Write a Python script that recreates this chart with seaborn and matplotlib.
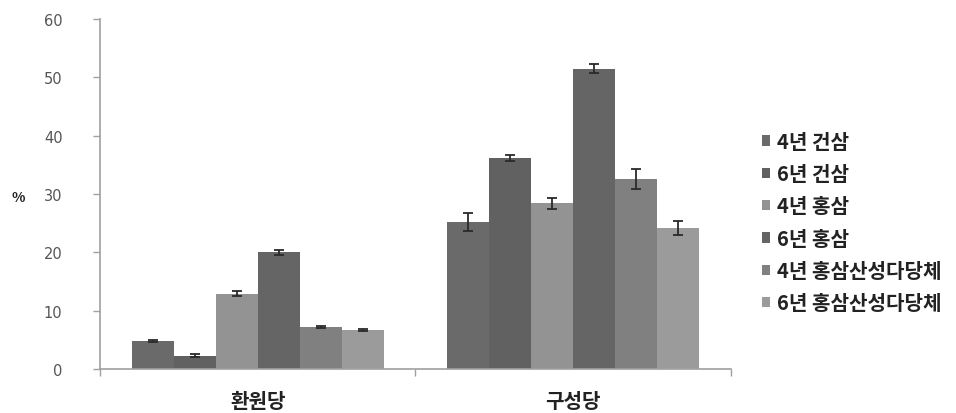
import matplotlib
matplotlib.use("Agg")
import matplotlib.pyplot as plt
import seaborn as sns
import pandas as pd
import numpy as np

categories = ["환원당", "구성당"]
series = ["4년 건삼", "6년 건삼", "4년 홍삼", "6년 홍삼", "4년 홍삼산성다당체", "6년 홍삼산성다당체"]
reducing_sugar = [4.8, 2.3, 12.9, 20.0, 7.2, 6.7]
reducing_err = [0.1, 0.2, 0.4, 0.4, 0.2, 0.2]
constituent_sugar = [25.2, 36.2, 28.4, 51.5, 32.6, 24.2]
constituent_err = [1.6, 0.5, 0.9, 0.8, 1.7, 1.2]
colors = ["#6a6a6a", "#616161", "#939393", "#656565", "#808080", "#9b9b9b"]
y_ticks = [0, 10, 20, 30, 40, 50, 60]

sns.set_theme(style="white")
plt.rcParams["font.family"] = ["Noto Sans CJK KR", "DejaVu Sans"]

rows = []
for cat, vals, errs in [(categories[0], reducing_sugar, reducing_err),
                        (categories[1], constituent_sugar, constituent_err)]:
    for s, v, e in zip(series, vals, errs):
        rows.append({"category": cat, "series": s, "value": v, "err": e})
df = pd.DataFrame(rows)

fig = plt.figure(figsize=(9.56, 4.14), dpi=100)
ax = fig.add_axes([0.1046, 0.1063, 0.660, 0.8454])

sns.barplot(data=df, x="category", y="value", hue="series", order=categories,
            hue_order=series, palette=colors, errorbar=None, width=0.8,
            linewidth=0, saturation=1, ax=ax)

# error bars at the centre of each drawn bar
for i, s in enumerate(series):
    cont = ax.containers[i]
    sub = df[df["series"] == s].set_index("category").loc[categories]
    xs = [p.get_x() + p.get_width() / 2 for p in cont.patches]
    ax.errorbar(xs, sub["value"].values, yerr=sub["err"].values, fmt="none",
                ecolor="#2a2a2a", elinewidth=1.3, capsize=3.5, capthick=1.3,
                zorder=5)

ax.set_ylim(0, 60)
ax.set_xlim(-0.5, 1.5)
ax.set_yticks(y_ticks)
ax.set_yticklabels([str(t) for t in y_ticks], fontsize=10.5, color="#555555",
                   family="DejaVu Sans")

# category boundaries as major ticks, labels on minor ticks
ax.set_xticks([-0.5, 0.5, 1.5])
ax.set_xticklabels(["", "", ""])
ax.set_xticks([0, 1], minor=True)
ax.set_xticklabels(categories, minor=True, fontsize=14.5, fontweight="bold",
                   color="#222222")
ax.tick_params(axis="x", which="minor", bottom=True, length=0, pad=15)
ax.tick_params(axis="x", which="major", bottom=True, direction="out", length=5,
               color="#a0a0a0", width=1)
ax.tick_params(axis="y", left=True, direction="out", length=5, color="#a0a0a0",
               width=1, pad=22)

for side in ["top", "right"]:
    ax.spines[side].set_visible(False)
for side in ["left", "bottom"]:
    ax.spines[side].set_color("#a0a0a0")
    ax.spines[side].set_linewidth(1.2)

ax.set_xlabel("")
ax.set_ylabel("%", rotation=0, fontsize=10, color="#222222", fontweight="bold")
ax.yaxis.set_label_coords(-0.13, 0.47)

leg = ax.legend(loc="center left", bbox_to_anchor=(1.049, 0.42), frameon=False,
                prop={"size": 14.5, "weight": "bold"}, handlelength=0.42,
                handleheight=0.42, handletextpad=0.32, labelspacing=0.56,
                borderaxespad=0, borderpad=0)
for t in leg.get_texts():
    t.set_color("#222222")

fig.savefig("out.png", dpi=100)
